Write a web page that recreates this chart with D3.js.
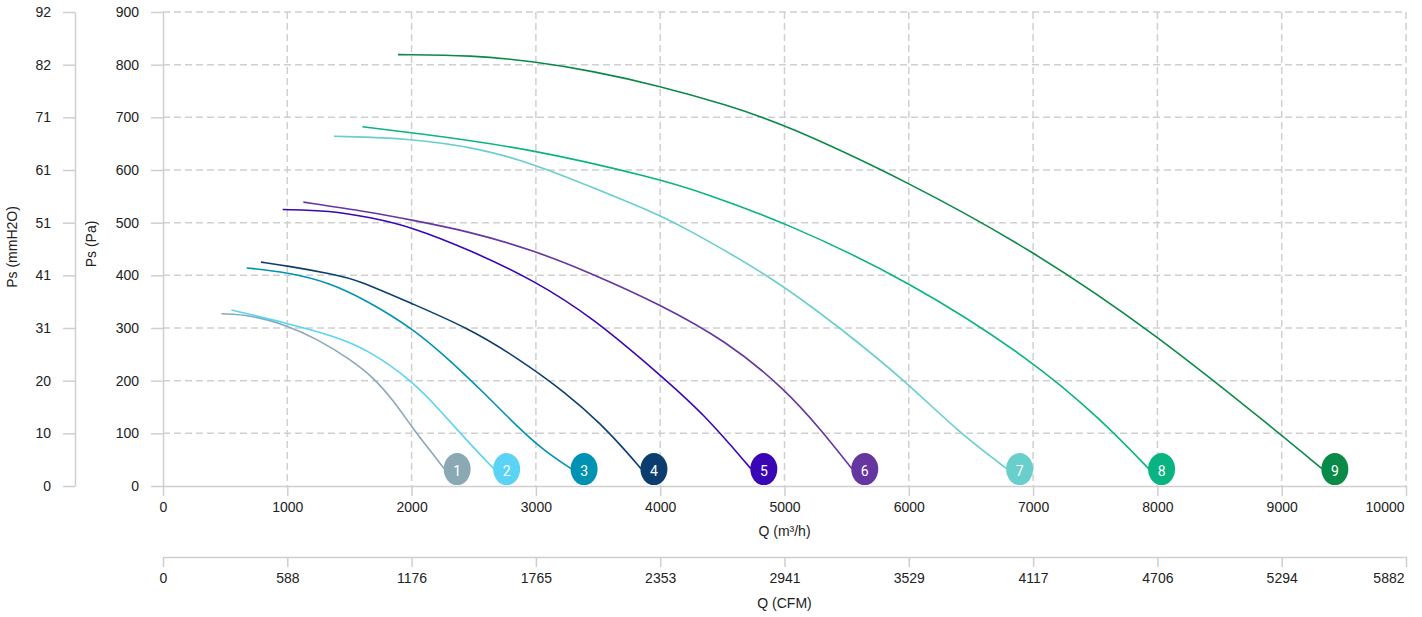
<!DOCTYPE html>
<html>
<head>
<meta charset="utf-8">
<script src="https://cdn.jsdelivr.net/npm/d3@7"></script>
<style>
  body { margin: 0; background: #fff; }
  text { font-family: "Liberation Sans", Arial, sans-serif; }
</style>
</head>
<body>
<div id="chart"></div>
<script>
// fan curves, Q in m3/h, Ps in Pa
var curve1 = [[470,327],[700,325],[1000,305],[1240,279],[1505,241],[1694,206],[1855,162],[2005,111],[2150,67],[2262,33]];
var curve2 = [[551,334],[1000,309],[1371,285],[1640,260],[2005,200],[2231,143],[2446,86],[2660,33]];
var curve3 = [[673,414],[1000,406],[1344,386],[1640,352],[2005,300],[2312,238],[2581,177],[2849,113],[3060,68],[3283,33]];
var curve4 = [[788,425],[1000,418],[1370,402],[1559,392],[2005,346],[2446,301],[2849,244],[3253,175],[3522,118],[3737,63],[3845,33]];
var curve5 = [[963,525],[1343,523],[1665,510],[2000,492],[2470,448],[2989,390],[3455,320],[3989,213],[4351,137],[4729,33]];
var curve6 = [[1129,539],[1665,520],[2000,505],[2470,483],[2989,447],[3455,403],[3989,346],[4530,276],[5000,185],[5300,105],[5541,33]];
var curve7 = [[1375,664],[2000,660],[2550,641],[2989,611],[3455,567],[3989,515],[4160,495],[4880,400],[5450,300],[5970,200],[6410,100],[6787,33]];
var curve8 = [[1604,682],[2000,671],[2953,641],[3989,583],[4330,558],[5000,501],[6000,390],[7000,238],[7556,124],[7929,33]];
var curve9 = [[1890,819],[2487,818],[2989,806],[3455,788],[3989,760],[4530,724],[5000,687],[6000,577],[7000,447],[7986,289],[8986,99],[9323,33]];

var curves = [curve1, curve2, curve3, curve4, curve5, curve6, curve7, curve8, curve9];
var names = ["1","2","3","4","5","6","7","8","9"];
var colors = ["#8aa9b4","#5ad3f5","#0092b3","#0b3e6f","#3a05b4","#6535a0","#68cfcc","#0ab482","#0a8a48"];

var xTicks = [0,1000,2000,3000,4000,5000,6000,7000,8000,9000,10000];
var yTicks = [0,100,200,300,400,500,600,700,800,900];

var W = 1422, H = 617;
var pl = 163, pr = 1406, pt = 12, pb = 486;

var svg = d3.select("#chart").append("svg")
    .attr("width", W)
    .attr("height", H);

var x = d3.scaleLinear().domain([0, 10000]).range([pl, pr]);
var y = d3.scaleLinear().domain([0, 900]).range([pb, pt]);

/* grid */
var grid = svg.append("g");
grid.selectAll(".hg").data(yTicks.filter(function(d){ return d > 0; }))
    .enter().append("line")
    .attr("x1", pl).attr("x2", pr)
    .attr("y1", function(d){ return y(d); }).attr("y2", function(d){ return y(d); })
    .style("stroke", "#d0d0d0").style("stroke-width", 1.5)
    .style("stroke-dasharray", "7,4");
grid.selectAll(".vg").data(xTicks.filter(function(d){ return d > 0; }))
    .enter().append("line")
    .attr("y1", pt).attr("y2", pb)
    .attr("x1", function(d){ return x(d); }).attr("x2", function(d){ return x(d); })
    .style("stroke", "#d0d0d0").style("stroke-width", 1.5)
    .style("stroke-dasharray", "7,4");

function styleAxis(g) {
  g.selectAll("path, line").style("stroke", "#cfcfcf").style("stroke-width", 1.5);
  g.selectAll("text").style("font-size", "14px").style("fill", "#222")
    .style("font-family", "'Liberation Sans', Arial, sans-serif");
}

// last x label is kept inside the picture
function pullLast(g) {
  g.selectAll(".tick:last-of-type text").attr("text-anchor", "end").attr("dx", "-2");
}

/* y axes */
var yPa = svg.append("g").attr("transform", "translate(" + pl + ",0)")
    .call(d3.axisLeft(y).tickValues(yTicks).tickSize(12).tickSizeOuter(0).tickPadding(12)
      .tickFormat(d3.format("d")));
styleAxis(yPa);

var yMm = svg.append("g").attr("transform", "translate(75,0)")
    .call(d3.axisLeft(y).tickValues(yTicks).tickSize(12).tickSizeOuter(0).tickPadding(12)
      .tickFormat(function(d){ return Math.round(d / 9.80665); }));
styleAxis(yMm);

/* x axes */
var xM3 = svg.append("g").attr("transform", "translate(0," + pb + ")")
    .call(d3.axisBottom(x).tickValues(xTicks).tickSize(10).tickSizeOuter(0).tickPadding(6)
      .tickFormat(d3.format("d")));
styleAxis(xM3);
pullLast(xM3);

var xCfm = svg.append("g").attr("transform", "translate(0,557)")
    .call(d3.axisBottom(x).tickValues(xTicks).tickSize(10).tickSizeOuter(0).tickPadding(6)
      .tickFormat(function(d){ return Math.round(d * 0.5882); }));
styleAxis(xCfm);
pullLast(xCfm);

/* titles */
function title(txt, tx, ty, rot) {
  svg.append("text").text(txt)
    .attr("transform", "translate(" + tx + "," + ty + ")" + (rot ? " rotate(-90)" : ""))
    .attr("text-anchor", "middle").attr("dominant-baseline", "central")
    .style("font-size", "14px").style("fill", "#222");
}
title("Q (m\u00b3/h)", (pl + pr) / 2, 531);
title("Q (CFM)", (pl + pr) / 2, 603);
title("Ps (Pa)", 91, 244, true);
title("Ps (mmH2O)", 12, 247, true);

/* curves */
var line = d3.line()
    .x(function(d){ return x(d[0]); })
    .y(function(d){ return y(d[1]); })
    .curve(d3.curveBasis);

svg.append("clipPath").attr("id", "plot")
  .append("rect").attr("x", pl).attr("y", 0).attr("width", pr - pl + 20).attr("height", pb - 0.5);

var lines = svg.append("g");
curves.forEach(function(c, i) {
  lines.append("path").datum(c)
    .attr("d", line)
    .style("fill", "none")
    .style("stroke", colors[i])
    .style("stroke-width", 1.6);
});

var badges = svg.append("g").attr("clip-path", "url(#plot)");
curves.forEach(function(c, i) {
  var end = c[c.length - 1];
  var bx = x(end[0]) + 13, by = y(end[1]) + 0.5;
  badges.append("ellipse")
    .attr("cx", bx).attr("cy", by).attr("rx", 13.5).attr("ry", 16)
    .style("fill", colors[i]);
  badges.append("text").text(names[i])
    .attr("x", bx).attr("y", by + 2)
    .attr("text-anchor", "middle").attr("dominant-baseline", "central")
    .style("font-family", "Roboto, sans-serif")
    .style("font-size", "14px").style("fill", "#fff");
});
</script>
</body>
</html>
